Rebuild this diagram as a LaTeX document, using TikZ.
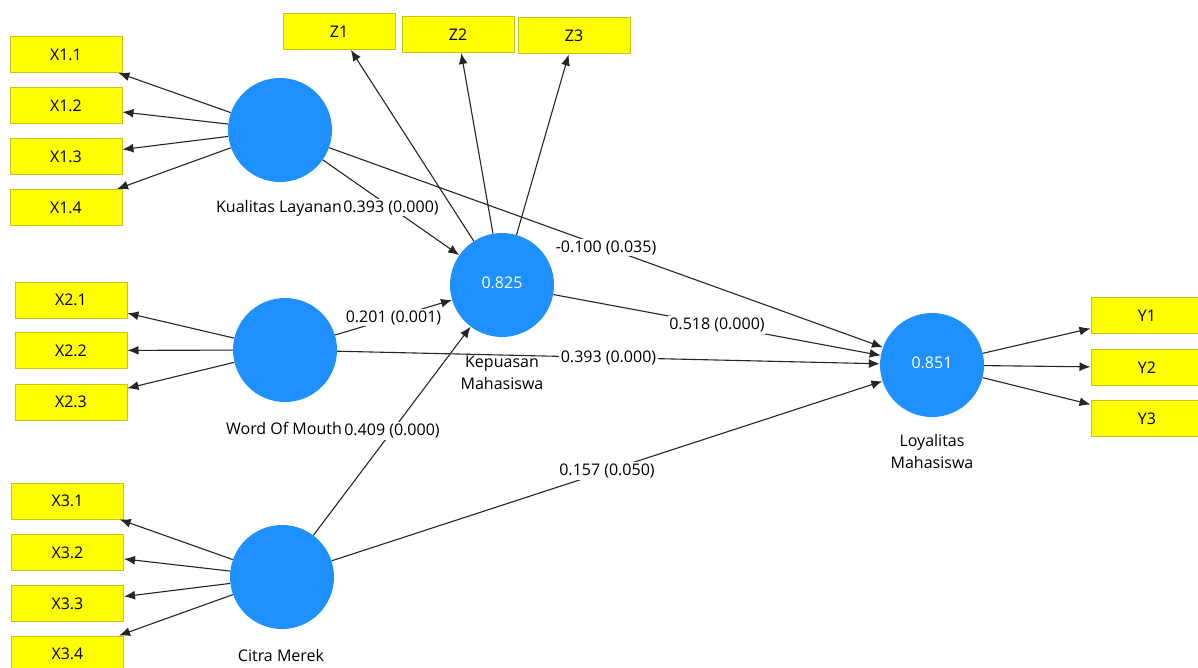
\documentclass[tikz,border=0pt]{standalone}
\usepackage{fontspec}
\setmainfont{Open Sans}
\usetikzlibrary{arrows.meta,calc}
\definecolor{lvblue}{RGB}{30,144,255}
\definecolor{indy}{RGB}{255,255,0}
\definecolor{indb}{RGB}{196,196,30}
\begin{document}
\begin{tikzpicture}[x=1pt,y=-1pt,
  ind/.style={draw=indb, fill=indy, line width=1pt, minimum width=112pt, minimum height=36pt, inner sep=0pt, font=\fontsize{16}{19}\selectfont},
  lat/.style={circle, fill=lvblue, minimum size=104pt, inner sep=0pt, text=white, font=\fontsize{16}{19}\selectfont},
  lbl/.style={font=\fontsize{16}{22}\selectfont, align=center, inner sep=0pt},
  conn/.style={draw=black!85, line width=1.1pt, -{Latex[length=11pt,width=9pt]}},
  coef/.style={fill=white, inner sep=1.5pt, font=\fontsize{16}{19}\selectfont}
]
\clip (0,0) rectangle (1198,668);
\fill[white] (0,0) rectangle (1198,668);

% indicators
\node[ind] (X11) at (66,54.5) {X1.1};
\node[ind] (X12) at (66,105.5) {X1.2};
\node[ind] (X13) at (66,156.5) {X1.3};
\node[ind] (X14) at (66,207.5) {X1.4};
\node[ind] (X21) at (71,300) {X2.1};
\node[ind] (X22) at (71,350.5) {X2.2};
\node[ind] (X23) at (71,402) {X2.3};
\node[ind] (X31) at (67.5,501) {X3.1};
\node[ind] (X32) at (67.5,552.5) {X3.2};
\node[ind] (X33) at (67.5,603.5) {X3.3};
\node[ind] (X34) at (67.5,654) {X3.4};
\node[ind] (Z1) at (339,31.5) {Z1};
\node[ind] (Z2) at (458,34.5) {Z2};
\node[ind] (Z3) at (574,36) {Z3};
\node[ind] (Y1) at (1147,315.5) {Y1};
\node[ind] (Y2) at (1147,367.5) {Y2};
\node[ind] (Y3) at (1147,418.5) {Y3};

% latent variables
\node[lat] (KL) at (280,130) {};
\node[lat] (WOM) at (285,350) {};
\node[lat] (CM) at (282,577) {};
\node[lat] (KM) at (502,285) {\raisebox{5pt}{0.825}};
\node[lat] (LM) at (932,365) {\raisebox{5pt}{0.851}};

% latent labels
\node[lbl] (KLl) at (279,208) {Kualitas Layanan};
\node[lbl] (WOMl) at (284,428) {Word Of Mouth};
\node[lbl] (CMl) at (281,655) {Citra Merek};
\node[lbl, anchor=north] (KMl) at (502,356) {Kepuasan\\Mahasiswa};
\node[lbl, anchor=north] (LMl) at (932,434) {Loyalitas\\Mahasiswa};

% outer loadings
\foreach \i in {X11,X12,X13,X14} \draw[conn] (KL) -- (\i);
\foreach \i in {X21,X22,X23} \draw[conn] (WOM) -- (\i);
\foreach \i in {X31,X32,X33,X34} \draw[conn] (CM) -- (\i);
\foreach \i in {Z1,Z2,Z3} \draw[conn] (KM) -- (\i);
\foreach \i in {Y1,Y2,Y3} \draw[conn] (LM) -- (\i);

% structural paths
\draw[conn] (KL) -- node[coef] {-0.100 (0.035)} (LM);
\draw[conn] (KL) -- node[coef] {0.393 (0.000)} (KM);
\draw[conn] (WOM) -- node[coef] {0.201 (0.001)} (KM);
\draw[conn] (WOM) -- node[coef] {0.393 (0.000)} (LM);
\draw[conn] (CM) -- node[coef] {0.409 (0.000)} (KM);
\draw[conn] (CM) -- node[coef] {0.157 (0.050)} (LM);
\draw[conn] (KM) -- node[coef] {0.518 (0.000)} (LM);
\end{tikzpicture}
\end{document}
